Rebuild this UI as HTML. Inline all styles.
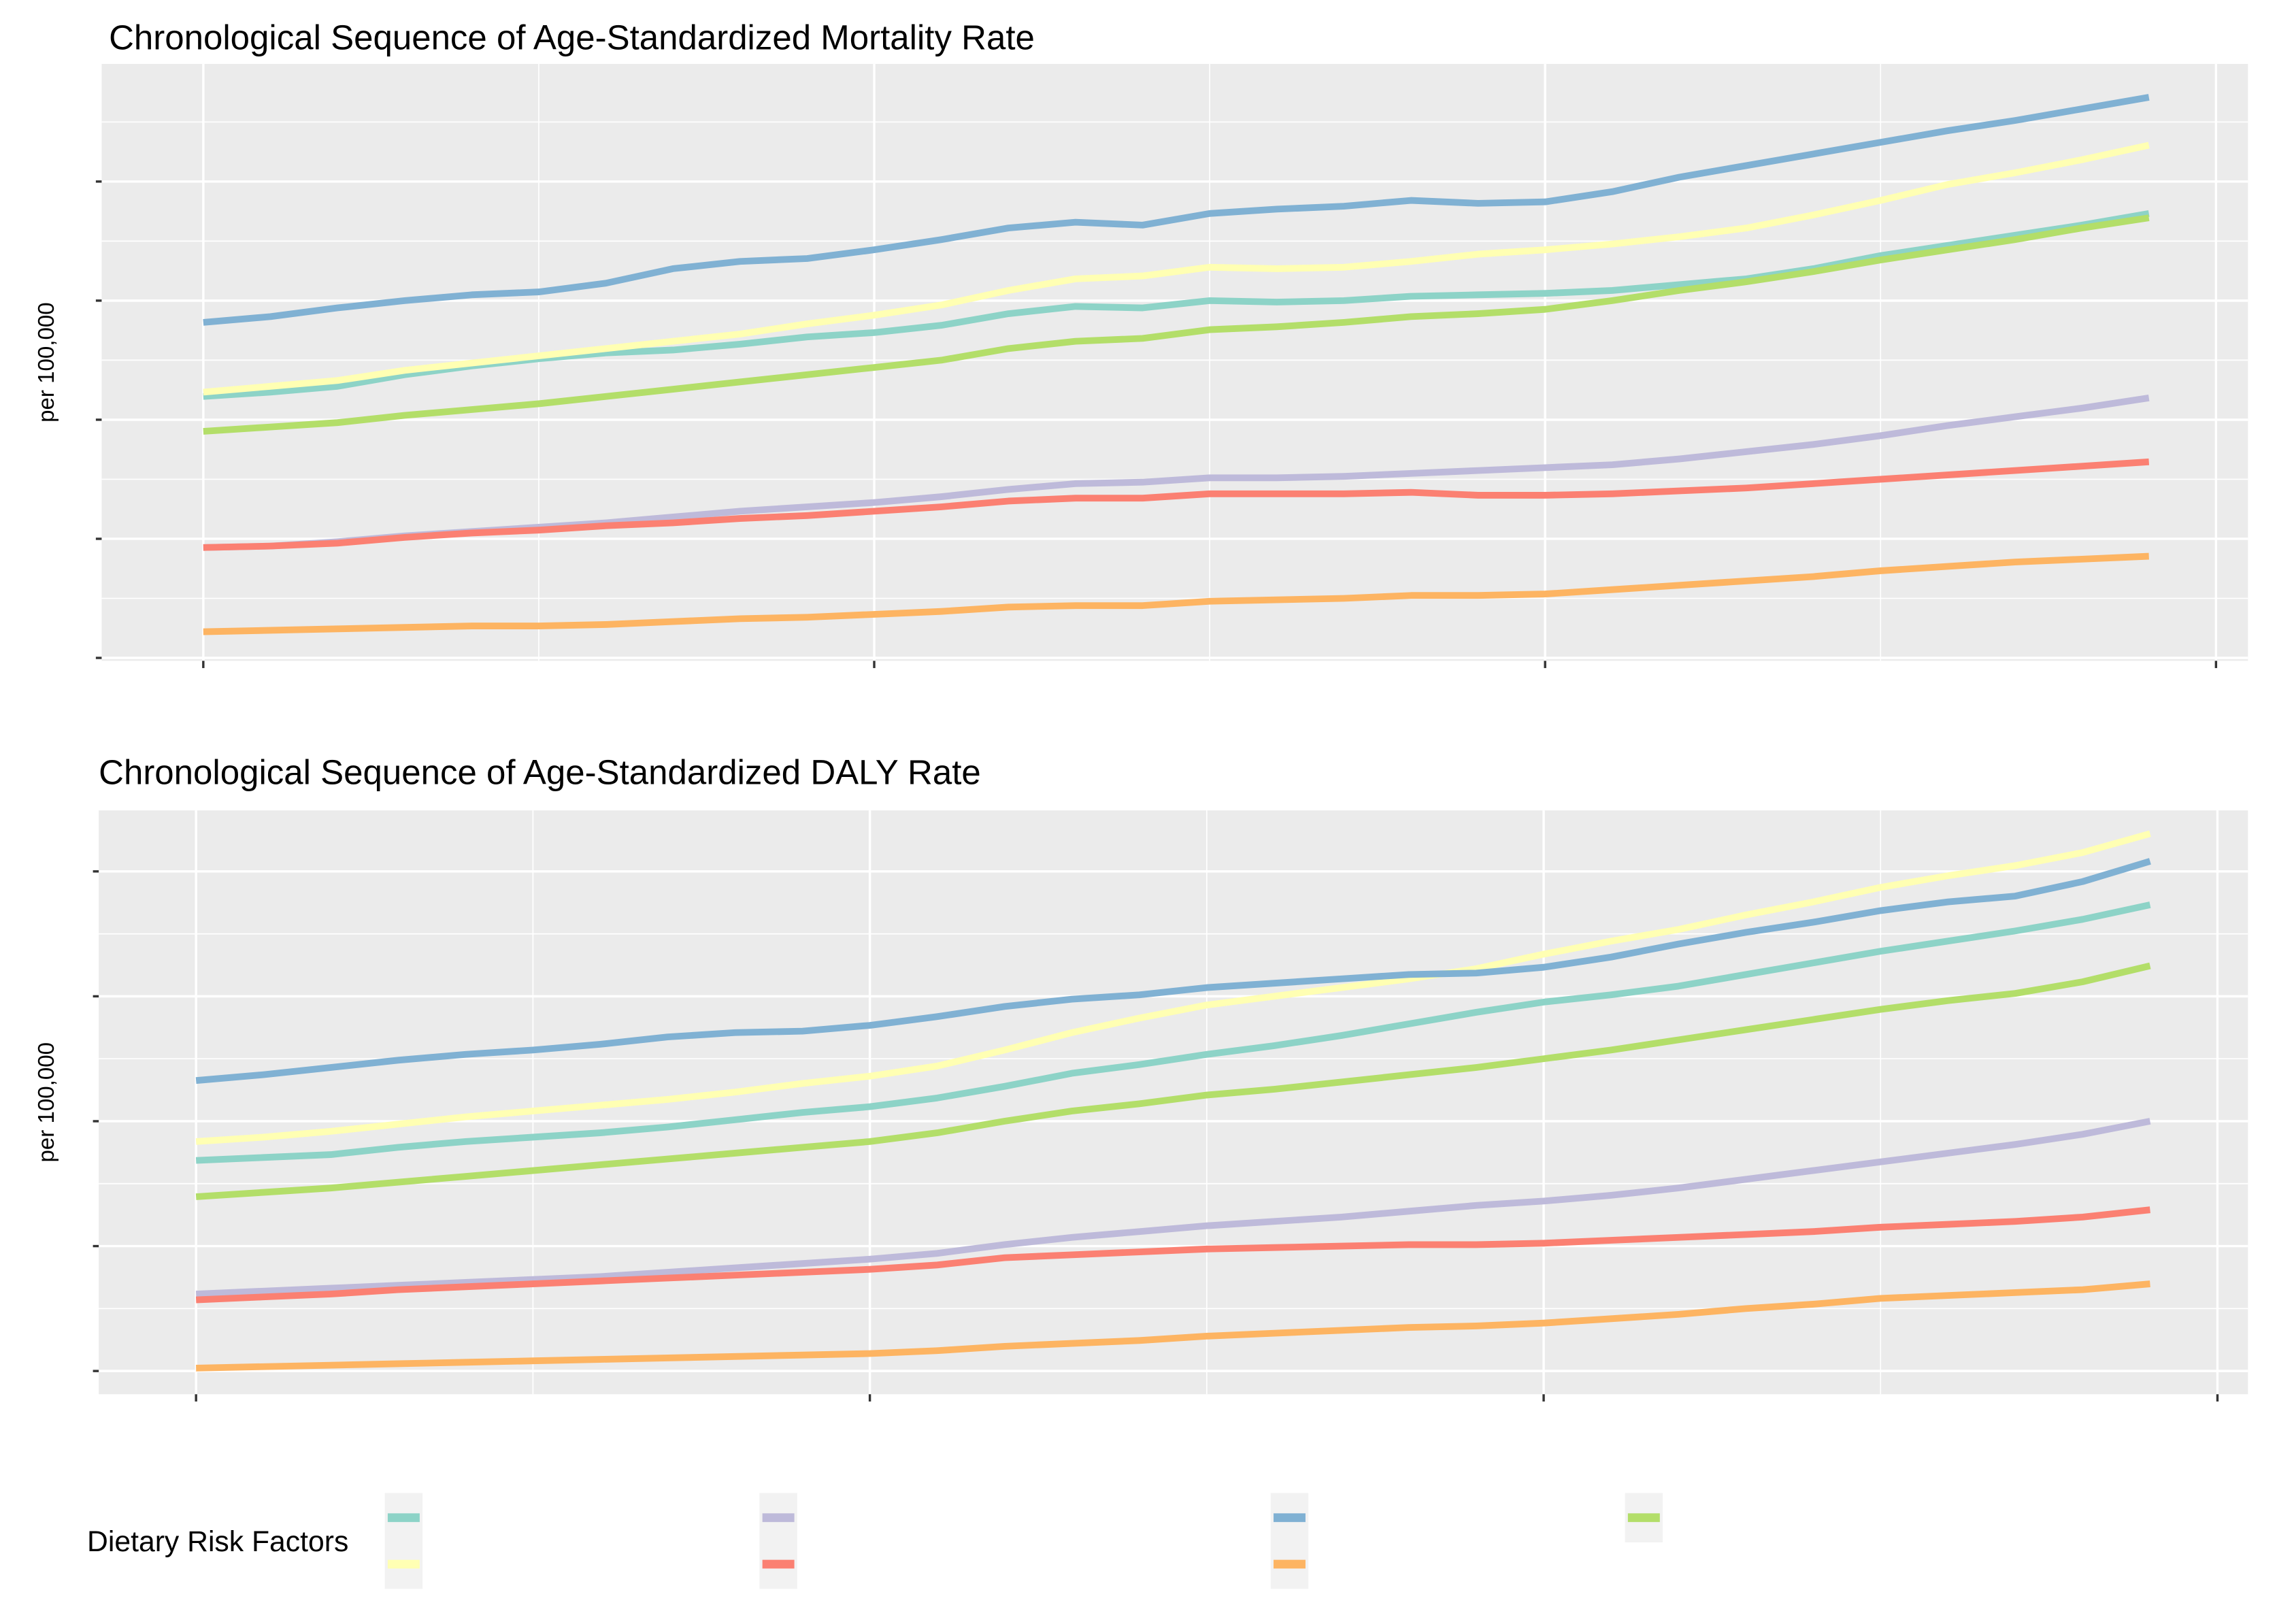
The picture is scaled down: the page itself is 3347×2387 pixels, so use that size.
<!DOCTYPE html>
<html><head><meta charset="utf-8"><style>
html,body{margin:0;padding:0;background:#fff;}
svg{display:block;font-family:"Liberation Sans",Arial,sans-serif;}
</style></head><body>
<svg id="chart" width="3347" height="2387" viewBox="0 0 1568 1118.2" preserveAspectRatio="none" xmlns="http://www.w3.org/2000/svg">
<g id="root"></g>
</svg>
<script>
const years = [1990,1991,1992,1993,1994,1995,1996,1997,1998,1999,2000,2001,2002,2003,2004,2005,2006,2007,2008,2009,2010,2011,2012,2013,2014,2015,2016,2017,2018,2019];
const seriesNames = ["teal","yellow","purple","red","blue","orange","green"];
const seriesColors = ["#8dd3c7","#ffffb3","#bebada","#fb8072","#80b1d3","#fdb462","#b3de69"];
// Mortality panel values (arbitrary units; one major gridline = 82 units)
const mortTeal   = [180,183,187,195,201,206,210,212,216,221,224,229,237,242,241,246,245,246,249,250,251,253,257,261,268,277,284,291,298,306];
const mortYellow = [183,187,191,198,203,208,213,218,223,230,236,243,253,261,263,269,268,269,273,278,281,285,290,296,305,315,326,334,343,353];
const mortPurple = [76,77,80,84,87,90,93,97,101,104,107,111,116,120,121,124,124,125,127,129,131,133,137,142,147,153,160,166,172,179];
const mortRed    = [76,77,79,83,86,88,91,93,96,98,101,104,108,110,110,113,113,113,114,112,112,113,115,117,120,123,126,129,132,135];
const mortBlue   = [231,235,241,246,250,252,258,268,273,275,281,288,296,300,298,306,309,311,315,313,314,321,331,339,347,355,363,370,378,386];
const mortOrange = [18,19,20,21,22,22,23,25,27,28,30,32,35,36,36,39,40,41,43,43,44,47,50,53,56,60,63,66,68,70];
const mortGreen  = [156,159,162,167,171,175,180,185,190,195,200,205,213,218,220,226,228,231,235,237,240,246,253,259,266,274,281,288,296,303];
// DALY panel values (arbitrary units; one major gridline = 86 units)
const dalyTeal   = [145,147,149,154,158,161,164,168,173,178,182,188,196,205,211,218,224,231,239,247,254,259,265,273,281,289,296,303,311,321];
const dalyYellow = [158,161,165,170,175,179,183,187,192,198,203,210,221,233,243,252,258,264,270,277,287,296,304,314,323,333,341,348,357,370];
const dalyPurple = [53,55,57,59,61,63,65,68,71,74,77,81,87,92,96,100,103,106,110,114,117,121,126,132,138,144,150,156,163,172];
const dalyRed    = [49,51,53,56,58,60,62,64,66,68,70,73,78,80,82,84,85,86,87,87,88,90,92,94,96,99,101,103,106,111];
const dalyBlue   = [200,204,209,214,218,221,225,230,233,234,238,244,251,256,259,264,267,270,273,274,278,285,294,302,309,317,323,327,337,351];
const dalyOrange = [2,3,4,5,6,7,8,9,10,11,12,14,17,19,21,24,26,28,30,31,33,36,39,43,46,50,52,54,56,60];
const dalyGreen  = [120,123,126,130,134,138,142,146,150,154,158,164,172,179,184,190,194,199,204,209,215,221,228,235,242,249,255,260,268,279];
const yTicks = [0,1,2,3,4];
const xTicks = [1990,2000,2010,2020];

const NS="http://www.w3.org/2000/svg";
const root=document.getElementById('root');
function mk(tag,attrs,parent){const e=document.createElementNS(NS,tag);for(const k in attrs)e.setAttribute(k,attrs[k]);(parent||root).appendChild(e);return e;}

function panel(cfg, data, key){
  const g=mk('g',{});
  
  
  const xs=y=>cfg.x0+(y-1990)*cfg.xStep;
  const ys=v=>cfg.yBase-v*cfg.yUnit;
  const bg=mk('rect',{x:cfg.left,y:cfg.top,width:cfg.right-cfg.left,height:cfg.bottom-cfg.top,fill:'#ebebeb'},g);
  
  
  for(let i=0;i<yTicks.length;i++){
    const ym=cfg.yBase-(yTicks[i]+0.5)*cfg.tickStep;
    if(ym>cfg.top) mk('line',{x1:cfg.left,x2:cfg.right,y1:ym,y2:ym,stroke:'#fff','stroke-width':0.8},g);
  }
  for(let i=0;i<xTicks.length-1;i++){
    const xm=xs(xTicks[i]+5);
    mk('line',{x1:xm,x2:xm,y1:cfg.top,y2:cfg.bottom,stroke:'#fff','stroke-width':0.8},g);
  }
  yTicks.forEach(t=>{
    const yy=cfg.yBase-t*cfg.tickStep;
    mk('line',{x1:cfg.left,x2:cfg.right,y1:yy,y2:yy,stroke:'#fff','stroke-width':1.6},g);
    const tk=mk('line',{x1:cfg.left-4,x2:cfg.left,y1:yy,y2:yy,stroke:'#333','stroke-width':1.6},g);
    
    
  });
  xTicks.forEach(t=>{
    const xx=xs(t);
    mk('line',{x1:xx,x2:xx,y1:cfg.top,y2:cfg.bottom,stroke:'#fff','stroke-width':1.6},g);
    const tk=mk('line',{x1:xx,x2:xx,y1:cfg.bottom,y2:cfg.bottom+5,stroke:'#333','stroke-width':1.6},g);
    
    
  });
  data.forEach((vals,si)=>{
    const d=vals.map((v,i)=>(i?'L':'M')+xs(years[i]).toFixed(1)+','+ys(v).toFixed(1)).join(' ');
    const p=mk('path',{d:d,fill:'none',stroke:seriesColors[si],'stroke-width':4.6,'stroke-linejoin':'round'},g);
    
    
  });
  const t=mk('text',{x:cfg.titleX,y:cfg.titleY,'font-size':23.9,fill:'#000'},g);
  t.textContent=cfg.title;
  
  
  const cy=(cfg.top+cfg.bottom)/2;
  const yl=mk('text',{x:0,y:0,'font-size':15.5,'text-anchor':'middle',transform:`translate(37,${cy}) rotate(-90)`},g);
  yl.textContent='per 100,000';
  
  
}

panel({left:70,right:1548,top:44,bottom:455,x0:140,xStep:46.2,yBase:453,yUnit:1,tickStep:82,titleX:75,titleY:34,title:'Chronological Sequence of Age-Standardized Mortality Rate'},
  [mortTeal,mortYellow,mortPurple,mortRed,mortBlue,mortOrange,mortGreen],'mortality');
panel({left:68,right:1548,top:558,bottom:960,x0:135,xStep:46.4,yBase:944,yUnit:1,tickStep:86,titleX:68,titleY:540,title:'Chronological Sequence of Age-Standardized DALY Rate'},
  [dalyTeal,dalyYellow,dalyPurple,dalyRed,dalyBlue,dalyOrange,dalyGreen],'daly');

const lg=mk('g',{});


const lt=mk('text',{x:60,y:1068,'font-size':20},lg);
lt.textContent='Dietary Risk Factors';


const colX=[265,523,875,1119];
const cols=[[0,1],[2,3],[4,5],[6]];
cols.forEach((c,ci)=>{
  mk('rect',{x:colX[ci],y:1028,width:26,height:c.length*32+2,fill:'#f2f2f2'},lg);
  c.forEach((si,ri)=>{
    const sw=mk('rect',{x:colX[ci]+2,y:1042+ri*32,width:22,height:6,fill:seriesColors[si]},lg);
    
    
  });
});
</script>
</body></html>
